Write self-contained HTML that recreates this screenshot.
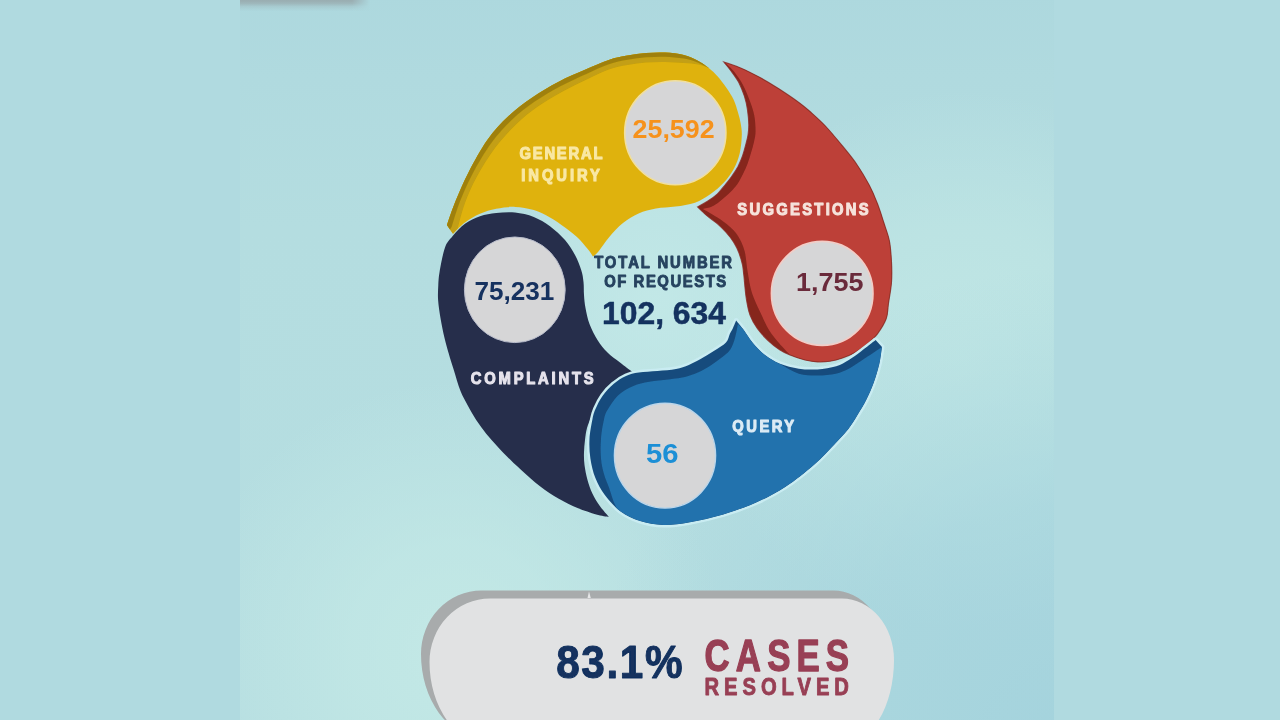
<!DOCTYPE html>
<html>
<head>
<meta charset="utf-8">
<title>Requests infographic</title>
<style>
  html, body { margin: 0; padding: 0; width: 1280px; height: 720px; overflow: hidden; background: #b0dae0; }
  svg { display: block; position: absolute; left: 0; top: 0; }
  text { font-family: "Liberation Sans", sans-serif; font-weight: bold; }
</style>
</head>
<body>
<svg width="1280" height="720" viewBox="0 0 1280 720">
  <defs>
    <linearGradient id="bg" x1="0" y1="0" x2="0" y2="1">
      <stop offset="0" stop-color="#add8de"/>
      <stop offset="0.12" stop-color="#b0dadf"/>
      <stop offset="0.32" stop-color="#b4dde0"/>
      <stop offset="1" stop-color="#b6dee1"/>
    </linearGradient>
    <radialGradient id="blobA" gradientUnits="userSpaceOnUse" cx="455" cy="650" r="270">
      <stop offset="0" stop-color="#c6ebe7" stop-opacity="0.8"/>
      <stop offset="0.4" stop-color="#c6ebe7" stop-opacity="0.58"/>
      <stop offset="1" stop-color="#c6ebe7" stop-opacity="0"/>
    </radialGradient>
    <radialGradient id="blobB" gradientUnits="userSpaceOnUse" cx="960" cy="360" r="270">
      <stop offset="0" stop-color="#c6ebe7" stop-opacity="0.65"/>
      <stop offset="0.5" stop-color="#c6ebe7" stop-opacity="0.42"/>
      <stop offset="1" stop-color="#c6ebe7" stop-opacity="0"/>
    </radialGradient>
    <radialGradient id="blobC" gradientUnits="userSpaceOnUse" cx="655" cy="300" r="170">
      <stop offset="0" stop-color="#c6ebe9" stop-opacity="0.75"/>
      <stop offset="0.6" stop-color="#c6ebe9" stop-opacity="0.5"/>
      <stop offset="1" stop-color="#c6ebe9" stop-opacity="0"/>
    </radialGradient>
    <radialGradient id="blobD" gradientUnits="userSpaceOnUse" cx="1060" cy="740" r="470">
      <stop offset="0" stop-color="#9ccedb" stop-opacity="0.68"/>
      <stop offset="0.5" stop-color="#9ccedb" stop-opacity="0.45"/>
      <stop offset="1" stop-color="#9ccedb" stop-opacity="0"/>
    </radialGradient>
    <linearGradient id="smudge" gradientUnits="userSpaceOnUse" x1="0" y1="0" x2="0" y2="11">
      <stop offset="0" stop-color="#99acb0" stop-opacity="1"/>
      <stop offset="0.3" stop-color="#99acb0" stop-opacity="0.78"/>
      <stop offset="0.6" stop-color="#99acb0" stop-opacity="0.3"/>
      <stop offset="1" stop-color="#99acb0" stop-opacity="0"/>
    </linearGradient>
    <linearGradient id="smFade" gradientUnits="userSpaceOnUse" x1="352" y1="0" x2="370" y2="0">
      <stop offset="0" stop-color="#fff"/>
      <stop offset="1" stop-color="#000"/>
    </linearGradient>
    <mask id="mSm" maskUnits="userSpaceOnUse" x="240" y="-5" width="140" height="18"><rect x="240" y="-5" width="140" height="18" fill="url(#smFade)"/></mask>
    <filter id="soft" filterUnits="userSpaceOnUse" x="-10" y="-10" width="1300" height="740">
      <feGaussianBlur stdDeviation="0.55"/>
    </filter>
    <path id="pYellow" d="M446.9 225.0 C448.4 220.9 452.1 209.3 455.8 200.4 C459.5 191.5 463.7 181.5 469.0 171.4 C474.3 161.3 480.9 148.9 487.5 139.7 C494.1 130.5 501.1 123.0 508.6 116.0 C516.1 109.0 523.9 103.2 532.3 97.5 C540.6 91.8 549.9 86.3 558.7 81.7 C567.5 77.1 576.7 73.4 585.0 69.8 C593.3 66.2 601.7 62.4 608.8 60.0 C615.8 57.6 621.2 56.8 627.5 55.6 C633.8 54.4 640.0 53.5 646.2 53.0 C652.5 52.5 658.8 52.2 665.0 52.5 C671.2 52.8 678.1 53.5 683.8 55.0 C689.4 56.5 694.6 59.1 698.8 61.2 C702.9 63.4 705.6 65.5 708.8 68.0 C711.9 70.5 714.6 73.0 717.5 76.2 C720.4 79.5 723.5 83.5 726.2 87.5 C729.0 91.5 731.8 95.8 733.8 100.0 C735.7 104.2 736.8 108.5 738.0 112.5 C739.2 116.5 740.2 120.2 740.8 124.0 C741.4 127.8 742.0 130.8 741.8 135.6 C741.6 140.4 741.1 147.5 739.8 153.0 C738.5 158.5 736.6 163.7 734.0 168.6 C731.4 173.5 728.1 178.1 724.2 182.3 C720.3 186.5 715.5 190.6 710.6 194.0 C705.7 197.4 700.8 200.6 695.0 202.7 C689.2 204.8 682.1 205.6 675.6 206.6 C669.1 207.6 662.2 207.4 656.0 208.5 C649.8 209.6 644.1 211.0 638.6 213.4 C633.1 215.8 627.9 219.1 623.0 223.0 C618.1 226.9 613.7 231.8 609.5 236.7 C605.3 241.6 600.5 249.0 597.8 252.3 C595.0 255.6 593.8 255.8 593.0 256.5 C592.1 255.2 590.1 251.9 587.5 248.8 C584.9 245.6 581.2 241.0 577.5 237.5 C573.8 234.0 569.6 230.8 565.0 227.5 C560.4 224.2 555.2 220.4 550.0 217.5 C544.8 214.6 539.6 211.8 533.8 210.0 C527.9 208.2 521.2 207.1 515.0 206.9 C508.8 206.7 502.1 207.6 496.2 208.8 C490.4 209.9 485.2 211.5 480.0 213.8 C474.8 216.0 469.5 219.2 465.0 222.5 C460.5 225.8 455.0 231.9 453.0 233.8 L446.9 225.0 Z"/>
    <path id="pNavy" d="M609.0 516.9 C606.9 516.5 601.5 515.9 596.2 514.4 C591.0 512.9 583.8 510.6 577.5 508.0 C571.2 505.4 565.0 502.4 558.8 498.8 C552.5 495.1 546.2 491.0 540.0 486.2 C533.8 481.5 526.8 475.0 521.2 470.0 C515.8 465.0 511.0 460.5 507.0 456.5 C503.0 452.5 500.5 449.8 497.0 446.0 C493.5 442.2 489.7 438.1 486.2 433.8 C482.8 429.4 479.4 424.8 476.2 420.0 C473.1 415.2 470.1 409.8 467.5 405.0 C464.9 400.2 462.8 396.8 460.5 391.0 C458.2 385.2 455.7 376.2 453.8 370.0 C451.8 363.8 450.3 359.2 448.8 353.8 C447.2 348.3 445.8 343.3 444.4 337.5 C443.0 331.7 441.7 325.0 440.6 318.8 C439.6 312.5 438.5 305.6 438.1 300.0 C437.7 294.4 438.1 289.7 438.3 285.0 C438.6 280.3 438.5 277.9 439.6 271.7 C440.7 265.4 442.9 253.4 445.0 247.5 C447.1 241.6 449.2 240.2 452.5 236.2 C455.8 232.3 460.4 227.1 465.0 223.8 C469.6 220.4 474.8 218.0 480.0 216.2 C485.2 214.5 490.4 213.6 496.2 213.0 C502.1 212.4 508.8 211.8 515.0 212.5 C521.2 213.2 527.9 214.6 533.8 216.9 C539.6 219.2 544.8 222.4 550.0 226.2 C555.2 230.1 560.8 235.2 565.0 240.0 C569.2 244.8 572.3 250.0 575.0 255.0 C577.7 260.0 579.8 265.5 581.2 270.0 C582.7 274.5 583.0 277.8 583.5 282.0 C584.0 286.2 583.7 290.7 584.0 295.0 C584.3 299.3 584.6 303.2 585.5 308.0 C586.4 312.8 587.5 318.7 589.5 324.0 C591.5 329.3 594.5 335.2 597.5 340.0 C600.5 344.8 603.8 348.8 607.5 352.5 C611.2 356.2 615.8 359.2 620.0 362.5 C624.2 365.8 630.4 370.4 632.5 372.0 C630.4 373.5 624.2 377.6 620.0 381.0 C615.8 384.4 611.0 388.5 607.5 392.5 C604.0 396.5 601.4 400.9 598.8 405.0 C596.1 409.1 593.5 413.2 591.5 417.0 C589.5 420.8 588.1 424.2 587.0 428.0 C585.9 431.8 585.5 435.9 585.0 440.0 C584.5 444.1 584.1 448.3 584.0 452.5 C583.9 456.7 583.9 460.4 584.5 465.0 C585.1 469.6 586.2 475.2 587.5 480.0 C588.8 484.8 590.4 489.4 592.5 493.8 C594.6 498.1 597.2 502.4 600.0 506.2 C602.8 510.1 607.5 515.1 609.0 516.9 Z"/>
    <path id="pBlue" d="M736.2 320.6 C737.5 322.2 741.0 326.4 743.8 330.0 C746.5 333.6 749.0 338.3 752.5 342.5 C756.0 346.7 760.4 351.5 765.0 355.0 C769.6 358.5 774.4 361.5 780.0 363.8 C785.6 366.0 792.5 367.8 798.8 368.8 C805.0 369.7 811.2 369.8 817.5 369.4 C823.8 369.0 831.0 367.8 836.2 366.2 C841.5 364.7 844.6 362.5 848.8 360.0 C852.9 357.5 856.8 354.6 861.2 351.2 C865.7 347.9 873.2 341.9 875.6 340.0 L882.0 347.0 C881.5 349.8 880.7 358.1 879.3 364.0 C877.9 369.9 875.9 376.5 873.8 382.5 C871.6 388.5 869.0 394.6 866.2 400.0 C863.5 405.4 860.5 410.1 857.5 415.0 C854.5 419.9 851.9 424.6 848.0 429.5 C844.1 434.4 840.0 438.6 834.4 444.4 C828.8 450.2 822.5 457.3 814.4 464.4 C806.3 471.4 795.2 480.4 785.6 486.7 C776.0 493.0 767.1 497.6 756.7 502.2 C746.3 506.8 734.4 511.1 723.3 514.4 C712.2 517.7 700.0 520.4 690.0 522.2 C680.0 524.0 671.7 525.2 663.4 525.0 C655.1 524.8 647.1 523.2 640.0 521.0 C632.9 518.8 626.4 515.8 620.6 511.5 C614.8 507.2 609.2 500.9 605.0 495.3 C600.8 489.7 597.7 484.0 595.3 477.8 C592.9 471.6 591.4 464.9 590.4 458.4 C589.4 451.9 589.2 445.5 589.5 439.0 C589.8 432.5 591.4 424.5 592.4 419.5 C593.4 414.5 593.8 412.9 595.5 409.0 C597.2 405.1 599.5 400.2 602.5 396.0 C605.5 391.8 609.8 387.1 613.8 383.8 C617.7 380.4 621.8 377.9 626.0 376.0 C630.2 374.1 633.5 373.3 638.8 372.5 C644.0 371.7 651.3 371.6 657.5 371.0 C663.7 370.4 670.8 370.0 676.0 369.0 C681.2 368.0 684.6 366.7 688.8 365.0 C692.9 363.3 696.8 361.1 701.0 358.8 C705.2 356.4 709.6 353.7 713.8 351.0 C717.9 348.3 723.3 345.4 726.0 342.5 C728.7 339.6 728.8 335.9 730.0 333.5 C731.2 331.1 732.0 330.1 733.0 328.0 C734.0 325.9 735.7 321.8 736.2 320.6 Z"/>
    <path id="pRed" d="M723.8 61.9 C726.7 63.0 735.2 65.6 741.2 68.2 C747.3 70.8 753.8 74.2 760.0 77.6 C766.2 81.0 772.5 84.8 778.8 88.8 C785.0 92.8 792.3 97.7 797.5 101.5 C802.7 105.3 805.4 107.4 810.0 111.5 C814.6 115.6 820.1 120.3 825.4 126.0 C830.7 131.7 836.8 139.0 842.0 145.4 C847.2 151.8 852.2 157.6 856.7 164.2 C861.2 170.8 865.7 178.4 869.2 185.0 C872.7 191.6 875.1 197.5 877.5 203.8 C879.9 210.0 881.8 216.3 883.8 222.5 C885.7 228.7 888.1 234.3 889.4 240.8 C890.7 247.3 891.1 254.8 891.5 261.7 C891.9 268.6 892.0 275.6 891.5 282.5 C891.0 289.4 889.4 297.3 888.5 303.3 C887.6 309.3 888.1 313.7 886.2 318.8 C884.4 323.8 880.6 329.6 877.5 333.8 C874.4 337.9 871.2 340.6 867.5 343.8 C863.8 346.9 859.2 350.1 855.0 352.5 C850.8 354.9 846.7 356.5 842.5 358.0 C838.3 359.5 834.2 360.6 830.0 361.2 C825.8 361.9 821.7 362.1 817.5 361.9 C813.3 361.7 809.6 361.1 805.0 360.0 C800.4 358.9 794.2 356.7 790.0 355.0 C785.8 353.3 783.8 352.5 780.0 350.0 C776.2 347.5 771.2 343.5 767.5 340.0 C763.8 336.5 760.4 332.9 757.5 328.8 C754.6 324.6 751.9 320.1 750.0 315.0 C748.1 309.9 747.3 304.7 746.2 298.0 C745.2 291.3 744.4 280.5 743.8 275.0 C743.1 269.5 743.3 268.8 742.5 265.0 C741.7 261.2 740.2 256.2 738.8 252.5 C737.3 248.8 735.8 245.8 733.8 242.5 C731.7 239.2 729.0 235.6 726.2 232.5 C723.5 229.4 720.6 226.5 717.5 223.8 C714.4 221.0 710.8 219.1 707.5 216.2 C704.2 213.4 699.2 208.5 697.5 206.9 C699.2 206.0 704.2 203.4 707.5 201.2 C710.8 199.1 714.6 196.5 717.5 193.8 C720.4 191.0 722.6 188.0 725.0 185.0 C727.4 182.0 729.9 179.1 732.0 176.0 C734.1 172.9 736.1 170.0 737.9 166.7 C739.6 163.4 741.2 159.6 742.5 156.0 C743.8 152.4 744.7 148.8 745.6 145.3 C746.5 141.8 747.5 138.4 748.0 135.0 C748.5 131.6 748.8 129.2 748.8 125.0 C748.7 120.8 748.2 114.8 747.5 110.0 C746.8 105.2 745.9 100.8 744.4 96.2 C742.9 91.7 740.9 86.7 738.8 82.5 C736.6 78.3 733.8 74.7 731.2 71.2 C728.8 67.8 725.0 63.5 723.8 61.9 Z"/>
    <clipPath id="cYellow"><use href="#pYellow"/></clipPath>
    <clipPath id="cBlue"><use href="#pBlue"/></clipPath>
    <clipPath id="cRed"><use href="#pRed"/></clipPath>
    <path id="pPill" d="M490 598.5 L842 598.5 A52 61.5 0 0 1 894 660 A52 85 0 0 1 842 745 L490 745 A60.5 83 0 0 1 429.5 662 A60.5 63.5 0 0 1 490 598.5 Z"/>
    <clipPath id="cPanel"><rect x="240" y="-10" width="814" height="740"/></clipPath>
    <clipPath id="cPillU"><rect x="380" y="560" width="560" height="175"/></clipPath>
  </defs>

  <g filter="url(#soft)">
  <!-- background: flat side strips + radial centre panel -->
  <rect x="-10" y="-10" width="1300" height="740" fill="#b0dae0"/>
  <g clip-path="url(#cPanel)">
    <rect x="240" y="-10" width="814" height="740" fill="url(#bg)"/>
    <rect x="240" y="-10" width="814" height="740" fill="url(#blobA)"/>
    <rect x="240" y="-10" width="814" height="740" fill="url(#blobB)"/>
    <rect x="240" y="-10" width="814" height="740" fill="url(#blobC)"/>
    <rect x="240" y="-10" width="814" height="740" fill="url(#blobD)"/>
  </g>
  <rect x="240" y="-4" width="132" height="15" fill="url(#smudge)" mask="url(#mSm)"/>

  <!-- navy segment -->
  <use href="#pNavy" fill="#252f4b"/>

  <!-- yellow segment -->
  <use href="#pYellow" fill="#dfb211"/>
  <path d="M446.9 225.0 C448.4 220.9 452.1 209.3 455.8 200.4 C459.5 191.5 463.7 181.5 469.0 171.4 C474.3 161.3 480.9 148.9 487.5 139.7 C494.1 130.5 501.1 123.0 508.6 116.0 C516.1 109.0 523.9 103.2 532.3 97.5 C540.6 91.8 549.9 86.3 558.7 81.7 C567.5 77.1 576.7 73.4 585.0 69.8 C593.3 66.2 601.7 62.4 608.8 60.0 C615.8 57.6 621.2 56.8 627.5 55.6 C633.8 54.4 640.0 53.5 646.2 53.0 C652.5 52.5 658.8 52.2 665.0 52.5 C671.2 52.8 678.1 53.5 683.8 55.0 C689.4 56.5 694.6 59.1 698.8 61.2 C702.9 63.4 707.1 66.9 708.8 68.0 L708.8 68.0 C707.0 67.4 702.2 65.3 698.0 64.5 C693.8 63.7 689.2 63.4 683.8 63.0 C678.2 62.6 671.2 62.0 665.0 61.9 C658.8 61.8 652.5 62.0 646.2 62.5 C640.0 63.0 633.8 63.9 627.5 65.0 C621.2 66.2 615.4 67.1 608.8 69.4 C602.1 71.7 595.7 75.2 587.8 79.0 C579.9 82.8 569.8 87.6 561.4 92.2 C553.0 96.8 545.1 101.4 537.6 106.7 C530.1 112.0 523.5 117.1 516.5 123.9 C509.5 130.7 502.0 138.8 495.4 147.6 C488.8 156.4 482.1 167.4 477.0 176.6 C471.9 185.8 468.2 194.3 465.0 203.0 C461.8 211.7 458.8 224.5 457.5 228.8 L453.0 233.8 Z" fill="#c39f12"/>
  <path d="M446.9 225.0 C448.4 220.9 452.1 209.3 455.8 200.4 C459.5 191.5 463.7 181.5 469.0 171.4 C474.3 161.3 480.9 148.9 487.5 139.7 C494.1 130.5 501.1 123.0 508.6 116.0 C516.1 109.0 523.9 103.2 532.3 97.5 C540.6 91.8 549.9 86.3 558.7 81.7 C567.5 77.1 576.7 73.4 585.0 69.8 C593.3 66.2 601.7 62.4 608.8 60.0 C615.8 57.6 621.2 56.8 627.5 55.6 C633.8 54.4 640.0 53.5 646.2 53.0 C652.5 52.5 658.8 52.2 665.0 52.5 C671.2 52.8 678.1 53.5 683.8 55.0 C689.4 56.5 694.6 59.1 698.8 61.2 C702.9 63.4 707.1 66.9 708.8 68.0 L708.8 68.0 C707.0 67.1 702.6 64.3 698.4 62.7 C694.2 61.1 689.3 59.6 683.8 58.6 C678.2 57.6 671.2 57.0 665.0 56.7 C658.8 56.5 652.5 56.8 646.2 57.3 C640.0 57.8 633.8 58.7 627.5 59.8 C621.2 61.0 615.6 61.9 608.8 64.2 C601.9 66.6 594.4 70.2 586.3 73.9 C578.1 77.6 568.5 81.8 559.9 86.4 C551.3 91.0 542.6 96.1 534.7 101.6 C526.7 107.2 519.4 112.6 512.2 119.6 C504.9 126.5 497.6 134.2 491.1 143.3 C484.5 152.3 477.8 164.0 472.6 173.7 C467.4 183.5 463.4 192.7 459.9 201.6 C456.5 210.4 453.0 222.5 451.7 226.7 L450.0 229.5 Z" fill="#9f800b"/>

  <!-- red segment -->
  <use href="#pRed" fill="#86251f"/>
  <g clip-path="url(#cRed)"><path d="M723.8 61.9 C726.7 63.0 735.2 65.6 741.2 68.2 C747.3 70.8 753.8 74.2 760.0 77.6 C766.2 81.0 772.5 84.8 778.8 88.8 C785.0 92.8 792.3 97.7 797.5 101.5 C802.7 105.3 805.4 107.4 810.0 111.5 C814.6 115.6 820.1 120.3 825.4 126.0 C830.7 131.7 836.8 139.0 842.0 145.4 C847.2 151.8 852.2 157.6 856.7 164.2 C861.2 170.8 865.7 178.4 869.2 185.0 C872.7 191.6 875.1 197.5 877.5 203.8 C879.9 210.0 881.8 216.3 883.8 222.5 C885.7 228.7 888.1 234.3 889.4 240.8 C890.7 247.3 891.1 254.8 891.5 261.7 C891.9 268.6 892.0 275.6 891.5 282.5 C891.0 289.4 889.4 297.3 888.5 303.3 C887.6 309.3 888.1 313.7 886.2 318.8 C884.4 323.8 880.6 329.6 877.5 333.8 C874.4 337.9 871.2 340.6 867.5 343.8 C863.8 346.9 859.2 350.1 855.0 352.5 C850.8 354.9 846.7 356.5 842.5 358.0 C838.3 359.5 834.2 360.6 830.0 361.2 C825.8 361.9 821.7 362.1 817.5 361.9 C813.3 361.7 809.6 361.1 805.0 360.0 C800.4 358.9 792.5 355.8 790.0 355.0 L790.0 355.0 C788.2 353.0 782.5 347.2 779.0 343.0 C775.5 338.8 772.0 334.9 769.0 330.0 C766.0 325.1 763.8 319.9 761.0 313.8 C758.2 307.6 754.2 300.0 752.0 293.0 C749.8 286.0 748.9 279.0 747.7 272.0 C746.5 265.0 746.2 257.0 744.6 251.0 C743.0 245.0 740.6 240.2 738.0 236.0 C735.4 231.8 732.4 229.1 729.0 226.0 C725.6 222.9 721.8 220.3 717.5 217.5 C713.2 214.7 705.4 210.4 703.0 209.0 C704.5 208.6 709.2 207.8 712.0 206.5 C714.8 205.2 717.0 203.6 720.0 201.2 C723.0 198.9 727.1 195.4 730.0 192.5 C732.9 189.6 735.3 187.1 737.5 184.0 C739.7 180.9 741.3 177.3 743.0 174.0 C744.7 170.7 746.2 167.5 747.5 164.0 C748.8 160.5 749.9 156.7 751.0 153.0 C752.1 149.3 753.2 145.7 754.0 142.0 C754.8 138.3 755.6 135.5 755.6 131.0 C755.6 126.5 755.2 120.2 754.2 115.0 C753.2 109.8 751.4 105.0 749.5 100.0 C747.6 95.0 745.6 89.8 743.0 85.0 C740.4 80.2 736.8 75.1 734.0 71.5 C731.2 67.9 727.3 64.8 726.0 63.5 Z" fill="#bd4137"/></g>
  <use href="#pRed" fill="none" stroke="#8a2a24" stroke-width="1.1" stroke-linejoin="miter" opacity="0.8"/>

  <!-- blue segment -->
  <use href="#pBlue" fill="none" stroke="#c9ecf2" stroke-width="5" stroke-linejoin="round"/>
  <use href="#pBlue" fill="#174c7d"/>
  <g clip-path="url(#cBlue)"><path d="M738.0 324.0 C739.0 325.0 741.3 326.9 743.8 330.0 C746.2 333.1 749.0 338.3 752.5 342.5 C756.0 346.7 760.4 351.4 765.0 355.0 C769.6 358.6 774.4 360.9 780.0 364.0 C785.6 367.1 792.5 371.8 798.8 373.8 C805.0 375.7 811.3 375.6 817.5 375.6 C823.7 375.6 830.8 374.9 836.0 373.8 C841.2 372.6 844.6 370.9 848.8 368.8 C852.9 366.6 856.8 363.7 861.0 361.0 C865.2 358.3 870.2 354.8 873.8 352.5 C877.2 350.2 880.6 347.9 882.0 347.0 C881.5 349.8 880.7 358.1 879.3 364.0 C877.9 369.9 875.9 376.5 873.8 382.5 C871.6 388.5 869.0 394.6 866.2 400.0 C863.5 405.4 860.5 410.1 857.5 415.0 C854.5 419.9 851.9 424.6 848.0 429.5 C844.1 434.4 840.0 438.6 834.4 444.4 C828.8 450.2 822.5 457.3 814.4 464.4 C806.3 471.4 795.2 480.4 785.6 486.7 C776.0 493.0 767.1 497.6 756.7 502.2 C746.3 506.8 734.4 511.1 723.3 514.4 C712.2 517.7 700.0 520.4 690.0 522.2 C680.0 524.0 671.7 525.2 663.4 525.0 C655.1 524.8 647.1 523.2 640.0 521.0 C632.9 518.8 624.8 514.3 620.6 511.5 C616.4 508.7 616.6 508.0 614.7 504.0 C612.8 500.0 610.8 492.5 609.0 487.5 C607.2 482.5 605.3 478.9 604.0 474.0 C602.7 469.1 601.5 464.2 601.0 458.4 C600.5 452.6 600.5 445.5 601.0 439.0 C601.5 432.5 602.9 424.3 604.0 419.5 C605.1 414.7 605.2 413.9 607.5 410.0 C609.8 406.1 613.8 399.8 617.5 396.0 C621.2 392.2 625.4 389.8 630.0 387.5 C634.6 385.2 639.4 383.8 645.0 382.5 C650.6 381.2 657.5 380.8 663.8 380.0 C670.0 379.2 677.3 378.5 682.5 377.5 C687.7 376.5 690.8 375.4 695.0 373.8 C699.2 372.1 703.3 370.0 707.5 367.5 C711.7 365.0 716.2 361.7 720.0 358.8 C723.8 355.8 727.5 353.5 730.0 350.0 C732.5 346.5 733.7 342.3 735.0 338.0 C736.3 333.7 737.5 326.3 738.0 324.0 Z" fill="#2372ad"/></g>

  <!-- number discs -->
  <ellipse cx="675.3" cy="132.7" rx="50.6" ry="52" fill="#d6d6d7" stroke="#f0dfa0" stroke-width="1.6"/>
  <ellipse cx="514.8" cy="289.8" rx="50.4" ry="52.8" fill="#d6d6d7" stroke="#b9bccb" stroke-width="1"/>
  <ellipse cx="822.2" cy="293.4" rx="50.8" ry="52" fill="#d6d6d7" stroke="#f2cdc7" stroke-width="1.6"/>
  <ellipse cx="665" cy="455.6" rx="50.6" ry="52.4" fill="#d6d6d7" stroke="#bcd6ea" stroke-width="1.4"/>

  <!-- numbers -->
  <text transform="translate(632.6,138.4) scale(1,1)" font-size="26" fill="#f6921e" textLength="82.0" lengthAdjust="spacingAndGlyphs">25,592</text>
  <text transform="translate(474.4,299.8) scale(1,1)" font-size="25.5" fill="#16305f" textLength="80.0" lengthAdjust="spacingAndGlyphs">75,231</text>
  <text transform="translate(796,291) scale(1,1)" font-size="26.5" fill="#6b2b3b" textLength="67.5" lengthAdjust="spacingAndGlyphs">1,755</text>
  <text transform="translate(646,462.5) scale(1,1)" font-size="27" fill="#1b8fd6" textLength="32.5" lengthAdjust="spacingAndGlyphs">56</text>

  <!-- labels -->
  <text transform="translate(519.4,158.9) scale(0.88,1)" font-size="16.8" fill="#f9e8a4" stroke="#f9e8a4" stroke-width="1.1" stroke-linejoin="round" textLength="94.5" lengthAdjust="spacing">GENERAL</text>
  <text transform="translate(521.3,181.1) scale(0.88,1)" font-size="16.8" fill="#f9e8a4" stroke="#f9e8a4" stroke-width="1.1" stroke-linejoin="round" textLength="89.3" lengthAdjust="spacing">INQUIRY</text>
  <text transform="translate(737.3,215.0) scale(0.88,1)" font-size="16.8" fill="#f6e3dc" stroke="#f6e3dc" stroke-width="1.1" stroke-linejoin="round" textLength="149.3" lengthAdjust="spacing">SUGGESTIONS</text>
  <text transform="translate(470.8,384.1) scale(0.88,1)" font-size="16.8" fill="#e6e3ec" stroke="#e6e3ec" stroke-width="1.1" stroke-linejoin="round" textLength="139.5" lengthAdjust="spacing">COMPLAINTS</text>
  <text transform="translate(732.2,432.4) scale(0.88,1)" font-size="16.8" fill="#dcebf5" stroke="#dcebf5" stroke-width="1.1" stroke-linejoin="round" textLength="70.5" lengthAdjust="spacing">QUERY</text>

  <!-- centre -->
  <text transform="translate(594.2,267.8) scale(0.94,1)" font-size="15.8" fill="#26435f" stroke="#26435f" stroke-width="0.9" stroke-linejoin="round" textLength="146.6" lengthAdjust="spacing">TOTAL NUMBER</text>
  <text transform="translate(604.2,287.4) scale(0.94,1)" font-size="15.8" fill="#26435f" stroke="#26435f" stroke-width="0.9" stroke-linejoin="round" textLength="129.8" lengthAdjust="spacing">OF REQUESTS</text>
  <text transform="translate(602.0,324.2) scale(1,1)" font-size="31" fill="#12305e" stroke="#12305e" stroke-width="0.5" stroke-linejoin="round" textLength="124.0" lengthAdjust="spacingAndGlyphs">102, 634</text>

  <!-- bottom pill -->
  <g clip-path="url(#cPillU)">
    <use href="#pPill" fill="#a8abac" transform="translate(-8.5,-8)"/>
    <use href="#pPill" fill="#e1e2e3"/>
    <path d="M587.5 598 L589 591.5 L590.8 598 Z" fill="#e6e7e8"/>
  </g>
  <text transform="translate(556.2,678.4) scale(0.9,1)" font-size="47" fill="#12305e" stroke="#12305e" stroke-width="1.0" stroke-linejoin="round" textLength="140.4" lengthAdjust="spacing">83.1%</text>
  <text transform="translate(704.6,671.3) scale(0.8,1)" font-size="43.5" fill="#983f54" stroke="#983f54" stroke-width="1.3" stroke-linejoin="round" textLength="180.6" lengthAdjust="spacing">CASES</text>
  <text transform="translate(704.4,694.7) scale(0.86,1)" font-size="23.5" fill="#983f54" stroke="#983f54" stroke-width="0.9" stroke-linejoin="round" textLength="168.1" lengthAdjust="spacing">RESOLVED</text>
  </g>
</svg>
</body>
</html>
